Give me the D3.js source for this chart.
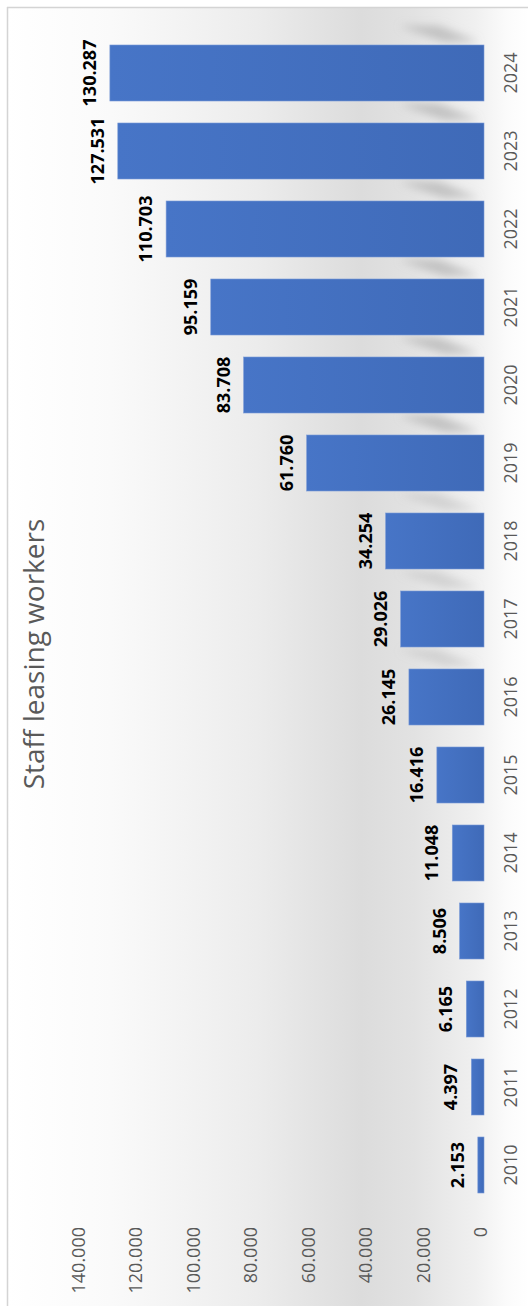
<!DOCTYPE html>
<html>
<head>
<meta charset="utf-8">
<script src="https://cdn.jsdelivr.net/npm/d3@7"></script>
<style>
  body { margin: 0; background: #ffffff; }
  svg { display: block; }
</style>
</head>
<body>
<div id="chart"></div>
<script>
// Chart data
var years = ["2010", "2011", "2012", "2013", "2014", "2015", "2016", "2017",
             "2018", "2019", "2020", "2021", "2022", "2023", "2024"];
var workers = [2153, 4397, 6165, 8506, 11048, 16416, 26145, 29026,
               34254, 61760, 83708, 95159, 110703, 127531, 130287];
var tickValues = [0, 20000, 40000, 60000, 80000, 100000, 120000, 140000];
var title = "Staff leasing workers";

var data = years.map(function (y, i) { return { year: y, value: workers[i] }; });

var width = 528, height = 1306;

// Thousands with a dot, like the original
function fmt(v) {
    return v === 0 ? "0" : d3.format(",")(v).replace(/,/g, ".");
}

var svg = d3.select("#chart")
    .append("svg")
    .attr("width", width)
    .attr("height", height);

var defs = svg.append("defs");

// Background shading
var bg = defs.append("linearGradient")
    .attr("id", "bg")
    .attr("x1", "0").attr("x2", "1").attr("y1", "0").attr("y2", "0");
[[0, "#ffffff"], [0.2, "#fafafa"], [0.48, "#ececec"], [0.68, "#dcdcdc"],
 [0.78, "#e2e2e2"], [0.9, "#f0f0f0"], [0.96, "#fbfbfb"], [1, "#ffffff"]]
    .forEach(function (s) {
        bg.append("stop").attr("offset", s[0]).attr("stop-color", s[1]);
    });

// Bar fill
var barGrad = defs.append("linearGradient")
    .attr("id", "barFill")
    .attr("x1", "0").attr("x2", "1").attr("y1", "0").attr("y2", "0");
barGrad.append("stop").attr("offset", 0).attr("stop-color", "#4775c7");
barGrad.append("stop").attr("offset", 1).attr("stop-color", "#3f6ab8");

defs.append("filter")
    .attr("id", "blur")
    .attr("x", "-50%").attr("y", "-50%").attr("width", "200%").attr("height", "200%")
    .append("feGaussianBlur")
    .attr("stdDeviation", 4);

svg.append("rect")
    .attr("x", 7).attr("y", 7)
    .attr("width", width - 7).attr("height", height - 7)
    .attr("fill", "url(#bg)");

// Frame lines
svg.append("line")
    .attr("x1", 7.5).attr("x2", 7.5).attr("y1", 7).attr("y2", height)
    .attr("stroke", "#d4d4d4").attr("stroke-width", 1.5);
svg.append("line")
    .attr("x1", 7).attr("x2", width).attr("y1", 7.5).attr("y2", 7.5)
    .attr("stroke", "#d4d4d4").attr("stroke-width", 1.5);

// Scales: value runs right to left, years top (2024) to bottom (2010)
var x = d3.scaleLinear()
    .domain([0, 140000])
    .range([484, 82]);

var y = d3.scaleBand()
    .domain(years.slice().reverse())
    .range([34, 1204])
    .paddingInner(0.282)
    .paddingOuter(0.141);

// Soft reflections near the base of the taller bars
svg.append("g")
    .attr("filter", "url(#blur)")
    .selectAll("path")
    .data(data.filter(function (d) { return d.value > 25000; }))
    .enter()
    .append("path")
    .attr("d", function (d) {
        var top = y(d.year) - y.step() * y.paddingInner() + 3;
        var bot = y(d.year) - 3;
        return "M" + (x(0) - 85) + "," + top +
               "L" + (x(0) - 45) + "," + top +
               "L" + (x(0) - 5) + "," + bot +
               "L" + (x(0) - 40) + "," + bot + "Z";
    })
    .attr("fill", "#a8a8a8")
    .attr("opacity", function (d) { return d.value > 60000 ? 0.6 : 0.35; });

// Bars
svg.append("g")
    .selectAll("rect")
    .data(data)
    .enter()
    .append("rect")
    .attr("x", function (d) { return x(d.value); })
    .attr("y", function (d) { return y(d.year); })
    .attr("width", function (d) { return x(0) - x(d.value); })
    .attr("height", y.bandwidth())
    .attr("fill", "url(#barFill)")
    .attr("stroke", "#7b9ad6")
    .attr("stroke-width", 0.6);

// Value labels
svg.append("g")
    .selectAll("text")
    .data(data)
    .enter()
    .append("text")
    .attr("transform", function (d) {
        return "translate(" + (x(d.value) - 14) + "," + (y(d.year) + y.bandwidth() / 2) + ") rotate(-90)";
    })
    .attr("text-anchor", "middle")
    .style("font-family", "'Open Sans', sans-serif")
    .style("font-weight", "bold")
    .style("font-size", "18px")
    .style("fill", "#000000")
    .text(function (d) { return fmt(d.value); });

// Year labels
svg.append("g")
    .selectAll("text")
    .data(years)
    .enter()
    .append("text")
    .attr("transform", function (d) {
        return "translate(517," + (y(d) + y.bandwidth() / 2) + ") rotate(-90)";
    })
    .attr("text-anchor", "middle")
    .style("font-family", "'Open Sans', sans-serif")
    .style("font-size", "18px")
    .style("fill", "#595959")
    .text(function (d) { return d; });

// Value axis tick labels
svg.append("g")
    .selectAll("text")
    .data(tickValues)
    .enter()
    .append("text")
    .attr("transform", function (d) {
        return "translate(" + (x(d) + 3) + ",1227) rotate(-90)";
    })
    .attr("text-anchor", "end")
    .style("font-family", "'Open Sans', sans-serif")
    .style("font-size", "18px")
    .style("fill", "#595959")
    .text(function (d) { return fmt(d); });

// Title
svg.append("text")
    .attr("transform", "translate(44,654) rotate(-90)")
    .attr("text-anchor", "middle")
    .style("font-family", "'Open Sans', sans-serif")
    .style("font-size", "28px")
    .style("fill", "#595959")
    .text(title);
</script>
</body>
</html>
